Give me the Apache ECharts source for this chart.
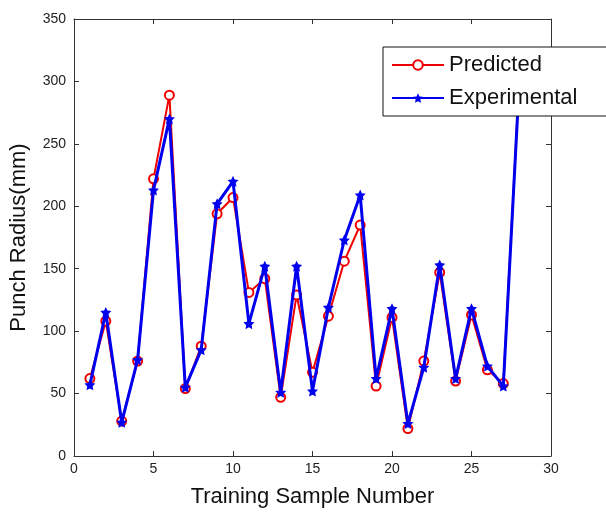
<!DOCTYPE html>
<html>
<head>
<meta charset="utf-8">
<script src="https://cdn.jsdelivr.net/npm/echarts@6/dist/echarts.min.js"></script>
<style>
  html, body { margin: 0; padding: 0; background: #fff; }
  #chart { width: 606px; height: 513px; }
</style>
</head>
<body>
<div id="chart"></div>
<script>
  // 样本编号
  var sampleNo = [1, 2, 3, 4, 5, 6, 7, 8, 9, 10, 11, 12, 13, 14, 15, 16, 17, 18, 19, 20, 21, 22, 23, 24, 25, 26, 27, 28];
  // 预测值
  var predicted = [62, 108, 28, 76, 222, 289, 54, 88, 194, 207, 131, 142, 47, 129, 67, 112, 156, 185, 56, 111, 22, 76, 147, 60, 113, 69, 58, 300];
  // 实验值
  var experimental = [57, 115, 27, 77, 213, 270, 55, 85, 202, 220, 106, 152, 51, 152, 52, 119, 173, 209, 62, 118, 26, 71, 153, 62, 118, 72, 56, 298];
  var xTicks = [0, 5, 10, 15, 20, 25, 30];
  var yTicks = [0, 50, 100, 150, 200, 250, 300, 350];

  var font = 'Arial, "Liberation Sans", sans-serif';
  var starPath = 'path://M0,-10 L2.9,-4 9.5,-3.1 4.7,1.5 5.9,8.1 0,5 -5.9,8.1 -4.7,1.5 -9.5,-3.1 -2.9,-4Z';

  function pairs(vals) {
    return vals.map(function (v, i) { return [sampleNo[i], v]; });
  }

  var chart = echarts.init(document.getElementById('chart'));

  // 坐标轴线不要贴到 0 上, 四边都画框
  var boxLine = { show: true, onZero: false, lineStyle: { color: '#333', width: 1 } };
  var inTick = { show: true, inside: true, length: 5, lineStyle: { color: '#333' } };

  var option = {
    backgroundColor: '#fff',
    animation: false,
    grid: { left: 71, right: 55, top: 19, bottom: 50 },
    legend: {
      orient: 'vertical',
      left: 383,
      top: 47,
      padding: [7, 60, 7, 8],
      itemGap: 11,
      itemWidth: 52,
      itemHeight: 12,
      backgroundColor: '#fff',
      borderColor: '#111',
      borderWidth: 1,
      borderRadius: 0,
      textStyle: { fontFamily: font, fontSize: 22, color: '#111' },
      data: ['Predicted', 'Experimental']
    },
    xAxis: [{
      type: 'value',
      min: 0, max: 30, interval: 5,
      name: 'Training Sample Number',
      nameLocation: 'middle',
      nameGap: 30,
      nameTextStyle: { fontFamily: font, fontSize: 22, color: '#111' },
      axisLine: boxLine,
      axisTick: inTick,
      splitLine: { show: false },
      axisLabel: { fontFamily: font, fontSize: 14, color: '#222', margin: 6 }
    }, {
      type: 'value', position: 'top',
      min: 0, max: 30, interval: 5,
      axisLine: boxLine, axisTick: inTick,
      splitLine: { show: false }, axisLabel: { show: false }
    }],
    yAxis: [{
      type: 'value',
      min: 0, max: 350, interval: 50,
      name: 'Punch Radius(mm)',
      nameLocation: 'middle',
      nameGap: 44,
      nameTextStyle: { fontFamily: font, fontSize: 22, color: '#111' },
      axisLine: boxLine,
      axisTick: inTick,
      splitLine: { show: false },
      axisLabel: { fontFamily: font, fontSize: 14, color: '#222', margin: 8 }
    }, {
      type: 'value', position: 'right',
      min: 0, max: 350, interval: 50,
      axisLine: boxLine, axisTick: inTick,
      splitLine: { show: false }, axisLabel: { show: false }
    }],
    series: [{
      name: 'Predicted',
      type: 'line',
      data: pairs(predicted),
      symbol: 'emptyCircle',
      symbolSize: 9,
      lineStyle: { color: '#ee0000', width: 2 },
      itemStyle: { color: '#ee0000', borderColor: '#ee0000', borderWidth: 1.5 },
      z: 2
    }, {
      name: 'Experimental',
      type: 'line',
      data: pairs(experimental),
      symbol: starPath,
      symbolSize: 11,
      lineStyle: { color: '#0000ee', width: 3 },
      itemStyle: { color: '#0000ee' },
      z: 3
    }]
  };

  chart.setOption(option);
</script>
</body>
</html>
